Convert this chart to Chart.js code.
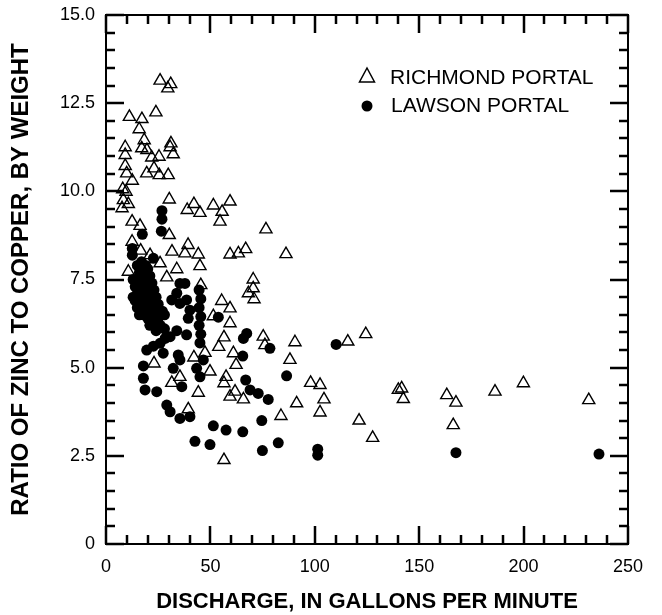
<!DOCTYPE html>
<html>
<head>
<meta charset="utf-8">
<script src="https://cdn.jsdelivr.net/npm/chart.js@4/dist/chart.umd.min.js"></script>
<style>
  html, body { margin: 0; padding: 0; background: #fff; }
  #wrap { width: 662px; height: 615px; }
</style>
</head>
<body>
<div id="wrap"><canvas id="scatterChart"></canvas></div>
<script>
// Richmond Portal (open triangles)
const richmondX = [25.9, 31.0, 29.6, 11.2, 17.2, 23.9, 15.9, 18.3, 9.2, 17.1, 19.6, 31.1, 30.7, 32.2, 21.9, 25.4,
  9.2, 9.2, 23.0, 19.5, 25.5, 29.8, 9.9, 12.6, 8.0, 9.6, 8.3, 10.7, 7.7, 30.3, 38.9, 42.1, 45.0, 51.4, 59.4,
  55.6, 54.6, 12.5, 16.3, 30.3, 76.6, 12.5, 39.3, 31.6, 37.8, 44.2, 59.4, 63.4, 66.9, 21.1, 16.6, 25.9, 33.9,
  45.0, 10.7, 29.1, 70.5, 70.5, 68.2, 70.9, 45.4, 55.4, 59.4, 51.4, 59.4, 56.5, 54.0, 75.3, 76.1, 47.4, 42.1,
  61.0, 62.3, 23.0, 49.8, 35.4, 31.5, 57.5, 56.5, 61.8, 59.4, 65.8, 44.2, 39.4, 83.8, 91.3, 56.5, 86.2, 90.5,
  88.1, 115.8, 124.4, 98.0, 102.5, 104.4, 102.5, 121.2, 127.7, 140.0, 141.6, 142.4, 163.2, 167.6, 166.3,
  186.3, 199.9, 231.2];
const richmondY = [13.14, 13.04, 12.92, 12.11, 12.05, 12.24, 11.76, 11.45, 11.25, 11.22, 11.17, 11.36, 11.25,
  11.05, 10.96, 10.98, 11.03, 10.72, 10.65, 10.51, 10.46, 10.46, 10.51, 10.30, 10.06, 9.99, 9.75, 9.64, 9.52,
  9.77, 9.47, 9.64, 9.39, 9.60, 9.71, 9.42, 9.14, 9.14, 9.02, 8.76, 8.92, 8.57, 8.48, 8.29, 8.24, 8.21, 8.21,
  8.24, 8.36, 8.19, 8.32, 7.96, 7.79, 7.88, 7.72, 7.56, 7.50, 7.25, 7.11, 6.94, 7.34, 6.89, 6.68, 6.46, 6.26,
  5.86, 5.59, 5.88, 5.64, 5.42, 5.29, 5.41, 5.08, 5.12, 4.89, 4.74, 4.57, 4.74, 4.56, 4.32, 4.18, 4.10, 4.29,
  3.82, 3.63, 3.99, 2.38, 8.22, 5.72, 5.22, 5.74, 5.95, 4.57, 4.51, 4.10, 3.73, 3.50, 3.01, 4.37, 4.41, 4.11,
  4.22, 4.01, 3.37, 4.32, 4.56, 4.08];

// Lawson Portal (filled circles)
const lawsonX = [26.8, 26.8, 26.5, 17.4, 12.6, 12.6, 22.7,
  15, 17, 19, 20, 16, 18, 21, 15, 17, 19, 22, 14, 16, 18, 20, 23, 15, 17, 19, 21, 24, 14, 16, 18, 20, 22, 25,
  15, 17, 19, 21, 23, 27, 16, 18, 20, 22, 25, 28, 21, 23, 26, 28, 24, 13, 13,
  35.4, 37.8, 33.9, 31.5, 38.6, 40.2, 35.4, 39.4,
  44.6, 45.4, 44.6, 45.4, 44.6, 45.4, 45.0,
  53.8, 33.9, 38.6, 30.7, 28.3, 25.9, 22.7, 19.5, 27.4, 34.6, 35.4, 17.9, 32.2, 46.6, 43.4, 45.0, 17.9, 18.7,
  24.3, 36.3, 67.4, 65.8, 78.5, 65.5, 66.9, 69.0, 72.9, 77.7, 74.6, 29.1, 30.7, 35.4, 40.2, 51.4, 57.5, 65.5,
  42.6, 49.8, 74.9, 82.5, 110.2, 86.5, 101.4, 101.4, 167.6, 236.1];
const lawsonY = [9.45, 9.21, 8.87, 8.78, 8.38, 8.19, 8.10,
  7.9, 8.0, 7.9, 7.8, 7.7, 7.7, 7.6, 7.5, 7.5, 7.5, 7.4, 7.3, 7.3, 7.3, 7.3, 7.2, 7.1, 7.1, 7.1, 7.0, 7.0, 6.9,
  6.9, 6.9, 6.8, 6.8, 6.8, 6.7, 6.7, 6.6, 6.6, 6.6, 6.6, 6.5, 6.5, 6.4, 6.4, 6.4, 6.5, 6.2, 6.2, 6.2, 6.1, 6.05,
  7.5, 7.0,
  7.39, 7.39, 7.11, 6.92, 6.92, 6.63, 6.82, 6.40,
  7.2, 6.95, 6.7, 6.45, 6.2, 5.95, 5.7,
  6.43, 6.05, 5.93, 5.88, 5.83, 5.69, 5.61, 5.50, 5.41, 5.36, 5.22, 5.05, 4.98, 5.22, 4.98, 4.74, 4.70, 4.37,
  4.32, 4.46, 5.97, 5.83, 5.55, 5.33, 4.65, 4.37, 4.27, 4.10, 3.50, 3.94, 3.75, 3.56, 3.61, 3.35, 3.23, 3.18,
  2.91, 2.82, 2.65, 2.87, 5.66, 4.77, 2.69, 2.52, 2.59, 2.55];

const seriesNames = ['RICHMOND PORTAL', 'LAWSON PORTAL'];
const xTicks = [0, 50, 100, 150, 200, 250];
const yTicks = [0, 2.5, 5.0, 7.5, 10.0, 12.5, 15.0];
const xMinorStep = 10;
const yMinorStep = 0.5;

const toPoints = (xs, ys) => xs.map((v, i) => ({x: v, y: ys[i]}));
const fontName = "'Liberation Sans', Arial, Helvetica, sans-serif";

// frame with inward ticks on all four sides, legend inside the plot
const frameTicks = {
    id: 'frameTicks',
    afterDraw(chart) {
        const c = chart.ctx;
        const a = chart.chartArea;
        const sx = chart.scales.x;
        const sy = chart.scales.y;
        c.save();
        c.strokeStyle = '#000000';
        c.lineWidth = 2;
        c.strokeRect(a.left, a.top, a.right - a.left, a.bottom - a.top);

        c.lineWidth = 2.5;
        c.beginPath();
        for (let i = 0; i <= 25; i++) {
            const px = Math.round(sx.getPixelForValue(i * xMinorStep));
            const len = i % 5 === 0 ? 18 : 9;
            c.moveTo(px, a.bottom);
            c.lineTo(px, a.bottom - len);
            c.moveTo(px, a.top);
            c.lineTo(px, a.top + len);
        }
        for (let i = 0; i <= 30; i++) {
            const py = Math.round(sy.getPixelForValue(i * yMinorStep));
            const len = i % 5 === 0 ? 18 : 9;
            c.moveTo(a.left, py);
            c.lineTo(a.left + len, py);
            c.moveTo(a.right, py);
            c.lineTo(a.right - len, py);
        }
        c.stroke();

        // legend, upper right
        c.fillStyle = '#000';
        c.font = '21px ' + fontName;
        c.textBaseline = 'middle';
        c.textAlign = 'left';
        c.lineWidth = 1.5;
        c.beginPath();
        c.moveTo(367, 68); c.lineTo(374.5, 82); c.lineTo(359.5, 82); c.closePath();
        c.stroke();
        c.fillText(chart.data.datasets[0].label, 390, 78);
        c.beginPath();
        c.arc(367, 106, 5.5, 0, Math.PI * 2);
        c.fill();
        c.fillText(chart.data.datasets[1].label, 391, 106);
        c.restore();
    }
};

const ctx = document.getElementById('scatterChart');

new Chart(ctx, {
    type: 'scatter',
    data: {
        datasets: [{
            label: seriesNames[0],
            data: toPoints(richmondX, richmondY),
            pointStyle: 'triangle',
            pointRadius: 7,
            backgroundColor: 'rgba(0,0,0,0)',
            borderColor: '#000',
            borderWidth: 1.4
        }, {
            label: seriesNames[1],
            data: toPoints(lawsonX, lawsonY),
            pointStyle: 'circle',
            pointRadius: 5.5,
            backgroundColor: '#000',
            borderColor: '#000',
            borderWidth: 0
        }]
    },
    options: {
        responsive: true,
        maintainAspectRatio: false,
        animation: false,
        events: [],
        layout: { padding: { left: 0, top: 15, right: 34, bottom: 0 } },
        plugins: {
            legend: { display: false },
            tooltip: { enabled: false }
        },
        scales: {
            x: {
                type: 'linear',
                min: 0,
                max: 250,
                afterFit: (s) => { s.height = 71; },
                afterBuildTicks: (s) => { s.ticks = xTicks.map(v => ({value: v})); },
                grid: { display: false, drawTicks: false },
                border: { display: true, color: '#000', width: 2 },
                ticks: {
                    padding: 12,
                    color: '#000',
                    font: { family: fontName, size: 18 }
                },
                title: {
                    display: true,
                    text: 'DISCHARGE, IN GALLONS PER MINUTE',
                    color: '#000',
                    font: { family: fontName, size: 22, weight: 'bold' },
                    padding: { top: 0, bottom: 0 }
                }
            },
            y: {
                type: 'linear',
                min: 0,
                max: 15,
                afterFit: (s) => { s.width = 106; s.paddingTop = 0; },
                afterBuildTicks: (s) => { s.ticks = yTicks.map(v => ({value: v})); },
                grid: { display: false, drawTicks: false },
                border: { display: true, color: '#000', width: 2 },
                ticks: {
                    padding: 11,
                    color: '#000',
                    font: { family: fontName, size: 18 },
                    callback: (v) => v === 0 ? '0' : Number(v).toFixed(1)
                },
                title: {
                    display: true,
                    text: 'RATIO OF ZINC TO COPPER, BY WEIGHT',
                    color: '#000',
                    font: { family: fontName, size: 24, weight: 'bold' },
                    padding: { top: 7, bottom: 0 }
                }
            }
        }
    },
    plugins: [frameTicks]
});
</script>
</body>
</html>
